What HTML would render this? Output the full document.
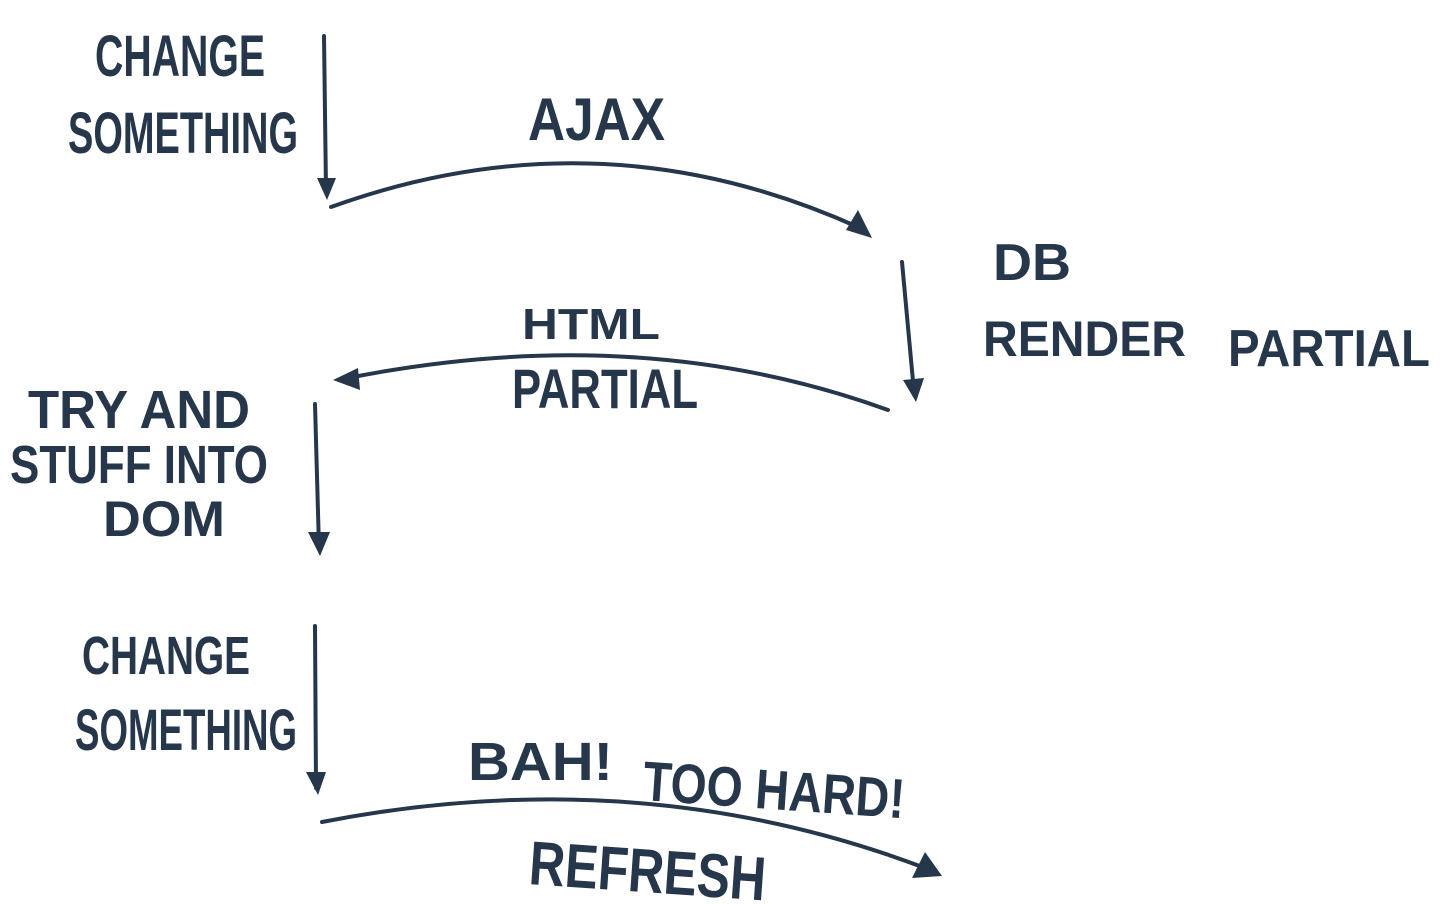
<!DOCTYPE html>
<html><head><meta charset="utf-8"><style>
html,body{margin:0;padding:0;background:#fff;}
svg{display:block}
text{font-family:"Liberation Sans",sans-serif;font-weight:bold;fill:#26364b;}
</style></head><body>
<svg width="1445" height="904" viewBox="0 0 1445 904">
<defs>
<marker id="ah" markerWidth="10" markerHeight="10" refX="7" refY="5" orient="auto" markerUnits="userSpaceOnUse" viewBox="0 0 10 10">
</marker>
</defs>
<g fill="none" stroke="#26364b" stroke-width="4" stroke-linecap="round">
<path d="M324 36 L326 190"/>
<path d="M331 207 Q600 110 860 228"/>
<path d="M902 262 L914 392"/>
<path d="M888 410 Q640 320 348 378"/>
<path d="M315 404 L319 548"/>
<path d="M315 626 L316 788"/>
<path d="M322 822 Q640 760 925 868"/>
</g>
<g fill="#26364b">
<polygon points="317,178 336,178 327,200"/>
<polygon points="846,230 872,238 858,210"/>
<polygon points="903,380 924,378 916,402"/>
<polygon points="333,380 358,368 360,390"/>
<polygon points="308,532 330,532 320,556"/>
<polygon points="306,772 326,772 318,795"/>
<polygon points="912,878 942,876 925,852"/>
</g>
<text x="95" y="76" font-size="58" textLength="170" lengthAdjust="spacingAndGlyphs">CHANGE</text>
<text x="68" y="153" font-size="58" textLength="230" lengthAdjust="spacingAndGlyphs">SOMETHING</text>
<text x="528" y="140" font-size="60" textLength="137" lengthAdjust="spacingAndGlyphs">AJAX</text>
<text x="993" y="280" font-size="52" textLength="78" lengthAdjust="spacingAndGlyphs">DB</text>
<text x="983" y="356" font-size="50" textLength="203" lengthAdjust="spacingAndGlyphs">RENDER</text>
<text x="1228" y="366" font-size="52" textLength="202" lengthAdjust="spacingAndGlyphs">PARTIAL</text>
<text x="522" y="339" font-size="44" textLength="138" lengthAdjust="spacingAndGlyphs">HTML</text>
<text x="512" y="408" font-size="56" textLength="186" lengthAdjust="spacingAndGlyphs">PARTIAL</text>
<text x="28" y="428" font-size="54" textLength="222" lengthAdjust="spacingAndGlyphs">TRY AND</text>
<text x="10" y="483" font-size="54" textLength="258" lengthAdjust="spacingAndGlyphs">STUFF INTO</text>
<text x="103" y="536" font-size="50" textLength="122" lengthAdjust="spacingAndGlyphs">DOM</text>
<text x="82" y="674" font-size="54" textLength="168" lengthAdjust="spacingAndGlyphs">CHANGE</text>
<text x="75" y="750" font-size="58" textLength="222" lengthAdjust="spacingAndGlyphs">SOMETHING</text>
<text x="468" y="780" font-size="54" textLength="145" lengthAdjust="spacingAndGlyphs">BAH!</text>
<text x="642" y="800" font-size="56" textLength="262" lengthAdjust="spacingAndGlyphs" transform="rotate(4 642 800)">TOO HARD!</text>
<text x="528" y="884" font-size="62" textLength="237" lengthAdjust="spacingAndGlyphs" transform="rotate(4 528 884)">REFRESH</text>
</svg>
</body></html>
